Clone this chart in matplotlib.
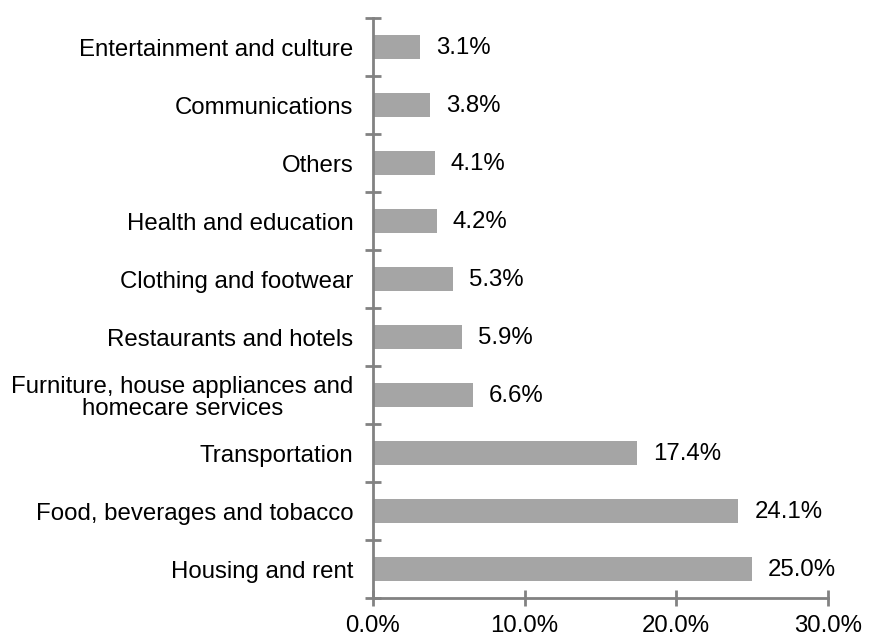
import numpy as np
import matplotlib
matplotlib.use("Agg")
import matplotlib.pyplot as plt
from matplotlib.ticker import FuncFormatter

# Household expenditure shares, bottom bar first
categories = [
    "Housing and rent",
    "Food, beverages and tobacco",
    "Transportation",
    "Furniture, house appliances and\nhomecare services",
    "Restaurants and hotels",
    "Clothing and footwear",
    "Health and education",
    "Others",
    "Communications",
    "Entertainment and culture",
]
shares = [25.0, 24.1, 17.4, 6.6, 5.9, 5.3, 4.2, 4.1, 3.8, 3.1]
x_ticks = [0, 10, 20, 30]

BAR_COLOR = "#A5A5A5"
AXIS_COLOR = "#828282"
FONT_SIZE = 17.3

plt.rcParams["font.family"] = ["Liberation Sans", "DejaVu Sans"]
plt.rcParams["font.size"] = FONT_SIZE

fig = plt.figure(figsize=(8.71, 6.36), dpi=100)
ax = fig.add_axes([0.428, 0.0597, 0.9506 - 0.428, 0.9717 - 0.0597])

y = np.arange(len(categories))
bars = ax.barh(y, shares, height=0.4, color=BAR_COLOR, edgecolor="none")

for bar, val in zip(bars, shares):
    ax.annotate(f"{val:.1f}%", xy=(bar.get_width(), bar.get_y() + bar.get_height() / 2),
                xytext=(11.5, -1), textcoords="offset points",
                ha="left", va="center", fontsize=FONT_SIZE, color="black")

ax.set_xlim(0, 30)
ax.set_ylim(-0.5, len(categories) - 0.5)
ax.set_xticks(x_ticks)
ax.xaxis.set_major_formatter(FuncFormatter(lambda v, _: f"{v:.1f}%"))

# category labels at bar centres, tick marks on the category boundaries
ax.set_yticks(y)
ax.set_yticklabels(categories, multialignment="center", linespacing=1.0)
ax.set_yticks(np.arange(-0.5, len(categories)), minor=True)
ax.tick_params(axis="y", which="major", length=0, pad=14, labelsize=FONT_SIZE)
ax.tick_params(axis="y", which="minor", direction="inout", length=12, width=2, color=AXIS_COLOR)
ax.tick_params(axis="x", which="major", direction="inout", length=12, width=2,
               color=AXIS_COLOR, pad=6, labelsize=FONT_SIZE)

for side in ("top", "right"):
    ax.spines[side].set_visible(False)
for side in ("left", "bottom"):
    ax.spines[side].set_color(AXIS_COLOR)
    ax.spines[side].set_linewidth(2)

fig.savefig("out.png", dpi=100)
